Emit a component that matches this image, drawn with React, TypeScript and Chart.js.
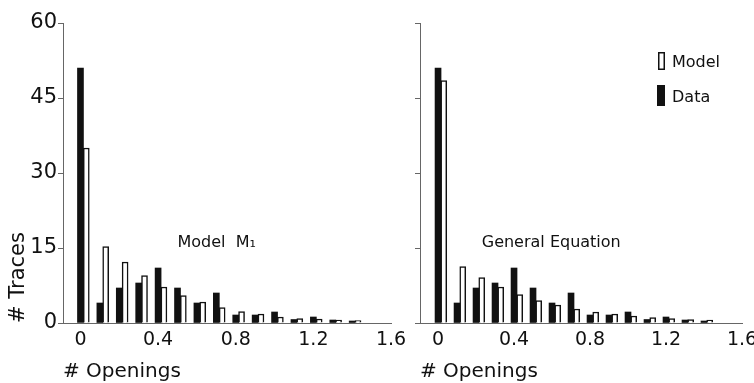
import React, { useEffect, useRef } from "react";
import { Chart, registerables } from "chart.js";

Chart.register(...registerables);

// ---- data ----
const binCenters = [0, 0.1, 0.2, 0.3, 0.4, 0.5, 0.6, 0.7, 0.8, 0.9, 1.0, 1.1, 1.2, 1.3, 1.4];
const dataTraces = [51, 4, 7, 8, 11, 7, 4, 6, 1.6, 1.6, 2.2, 0.7, 1.2, 0.6, 0.4];
const modelM1Traces = [35, 15.3, 12.2, 9.5, 7.2, 5.5, 4.2, 3.1, 2.3, 1.8, 1.2, 0.9, 0.8, 0.6, 0.5];
const generalEqTraces = [48.5, 11.3, 9.1, 7.2, 5.7, 4.5, 3.6, 2.8, 2.2, 1.8, 1.4, 1.1, 0.9, 0.7, 0.6];
const yTickValues = [0, 15, 30, 45, 60];
const xTickValues = [0, 0.4, 0.8, 1.2, 1.6];
const xTickLabels = ["0", "0.4", "0.8", "1.2", "1.6"];
const panelTitles = ["Model  M\u2081", "General Equation"];
const legendLabels = ["Model", "Data"];
const xAxisTitle = "# Openings";
const yAxisTitle = "# Traces";

// ---- styling ----
const FONT = '"DejaVu Sans", sans-serif';
const INK = "#111111";
const AXIS = "#666666";
const MODEL_SHIFT = 0.03;

const panelTextPlugin = {
  id: "panelText",
  afterDatasetsDraw(chart: any, _args: any, opts: any) {
    const { ctx, scales, chartArea } = chart;
    ctx.save();
    ctx.fillStyle = INK;
    ctx.textBaseline = "middle";
    ctx.textAlign = "left";
    if (opts.text) {
      ctx.font = `16px ${FONT}`;
      ctx.fillText(opts.text, scales.x.getPixelForValue(opts.x), scales.y.getPixelForValue(opts.y));
    }
    if (opts.legend) {
      const bx = chartArea.right - 84;
      const by = chartArea.top;
      ctx.font = `16px ${FONT}`;
      // Model swatch (open)
      ctx.fillStyle = "#fff";
      ctx.fillRect(bx, by + 29, 7, 18);
      ctx.strokeStyle = INK;
      ctx.lineWidth = 1.5;
      ctx.strokeRect(bx + 0.75, by + 29.75, 5.5, 16.5);
      ctx.fillStyle = INK;
      ctx.fillText(legendLabels[0], bx + 14, by + 40);
      // Data swatch (filled)
      ctx.fillRect(bx - 1, by + 62, 8, 21);
      ctx.fillText(legendLabels[1], bx + 14, by + 75);
    }
    ctx.restore();
  },
};

type PanelOpts = {
  model: number[];
  xMin: number;
  showYLabels: boolean;
  padRight: number;
  yWidth: number;
  title: string;
  titleX: number;
  titleY: number;
  legend: boolean;
};

function buildConfig(p: PanelOpts): any {
  return {
    type: "bar",
    data: {
      datasets: [
        {
          label: "Data",
          data: binCenters.map((x, i) => ({ x, y: dataTraces[i] })),
          backgroundColor: INK,
          borderWidth: 0,
          barThickness: 6,
          grouped: false,
          xAxisID: "x",
        },
        {
          label: "Model",
          data: binCenters.map((x, i) => ({ x, y: p.model[i] })),
          backgroundColor: "#ffffff",
          borderColor: INK,
          borderWidth: 1.5,
          barThickness: 6,
          grouped: false,
          xAxisID: "xModel",
        },
      ],
    },
    options: {
      animation: false,
      responsive: false,
      maintainAspectRatio: false,
      events: [],
      layout: { padding: { top: 23, right: p.padRight, left: 0, bottom: 0 } },
      plugins: {
        legend: { display: false },
        tooltip: { enabled: false },
        panelText: { text: p.title, x: p.titleX, y: p.titleY, legend: p.legend },
      },
      scales: {
        x: {
          type: "linear",
          offset: false,
          min: p.xMin,
          max: 1.6,
          afterBuildTicks: (s: any) => {
            s.ticks = xTickValues.map((v) => ({ value: v }));
          },
          afterFit: (s: any) => {
            s.height = 60;
          },
          grid: { display: false },
          border: { display: true, color: AXIS, width: 1 },
          ticks: {
            callback: (_v: any, i: number) => xTickLabels[i],
            color: INK,
            font: { family: FONT, size: 19 },
            padding: -2,
            maxRotation: 0,
            autoSkip: false,
          },
          title: {
            display: true,
            text: xAxisTitle,
            align: "start",
            color: INK,
            font: { family: FONT, size: 20 },
            padding: { top: 0, bottom: -1 },
          },
        },
        xModel: {
          type: "linear",
          display: false,
          offset: false,
          min: p.xMin - MODEL_SHIFT,
          max: 1.6 - MODEL_SHIFT,
        },
        y: {
          type: "linear",
          min: 0,
          max: 60,
          afterBuildTicks: (s: any) => {
            s.ticks = yTickValues.map((v) => ({ value: v }));
          },
          afterFit: (s: any) => {
            s.width = p.yWidth;
          },
          grid: { display: true, drawOnChartArea: false, drawTicks: true, tickLength: 5, color: AXIS },
          border: { display: true, color: AXIS, width: 1 },
          ticks: {
            display: p.showYLabels,
            color: INK,
            font: { family: FONT, size: 21 },
            padding: 1,
          },
          title: {
            display: p.showYLabels,
            text: yAxisTitle,
            align: "start",
            color: INK,
            font: { family: FONT, size: 21 },
            padding: { top: 6, bottom: 0 },
          },
        },
      },
    },
    plugins: [panelTextPlugin],
  };
}

function Panel({ opts, left, width }: { opts: PanelOpts; left: number; width: number }) {
  const ref = useRef<HTMLCanvasElement>(null);
  useEffect(() => {
    const chart = new Chart(ref.current as HTMLCanvasElement, buildConfig(opts));
    return () => chart.destroy();
  }, []);
  return (
    <div style={{ position: "absolute", left, top: 0 }}>
      <canvas ref={ref} width={width} height={383} style={{ display: "block" }} />
    </div>
  );
}

export default function App() {
  useEffect(() => {
    document.body.style.margin = "0";
  }, []);
  const leftOpts: PanelOpts = {
    model: modelM1Traces,
    xMin: -0.09,
    showYLabels: true,
    padRight: 29,
    yWidth: 63,
    title: panelTitles[0],
    titleX: 0.5,
    titleY: 16,
    legend: false,
  };
  const rightOpts: PanelOpts = {
    model: generalEqTraces,
    xMin: -0.095,
    showYLabels: false,
    padRight: 38,
    yWidth: 40,
    title: panelTitles[1],
    titleX: 0.23,
    titleY: 16,
    legend: true,
  };
  return (
    <div style={{ position: "relative", width: 754, height: 383, overflow: "hidden", background: "#fff" }}>
      <Panel opts={leftOpts} left={0} width={420} />
      <Panel opts={rightOpts} left={380} width={400} />
    </div>
  );
}
